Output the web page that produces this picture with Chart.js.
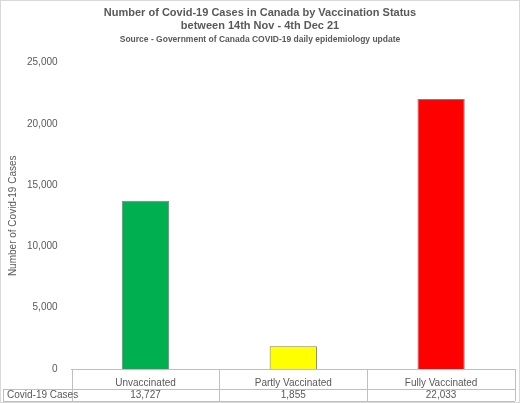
<!DOCTYPE html>
<html><head><meta charset="utf-8">
<script src="https://cdn.jsdelivr.net/npm/chart.js@4"></script>
<style>
body{margin:0;background:#fff;}
#wrap{width:518px;height:401px;border:1px solid #d9d9d9;}
</style></head>
<body><div id="wrap"><canvas id="c" width="518" height="401"></canvas></div>
<script>
const categories = ['Unvaccinated', 'Partly Vaccinated', 'Fully Vaccinated'];
const cases = [13727, 1855, 22033];
const barColors = ['#00B050', '#FFFF00', '#FF0000'];
const seriesName = 'Covid-19 Cases';

// draws the data table under the axis (grid + values + series label)
const dataTable = {
    id: 'dataTable',
    afterDraw(chart) {
        const ctx = chart.ctx;
        const x = chart.scales.x;
        const top = x.top, bottom = chart.height - 1;
        const mid = x.bottom;
        ctx.save();
        ctx.strokeStyle = '#bfbfbf';
        ctx.lineWidth = 1;
        ctx.beginPath();
        ctx.moveTo(2, mid + 0.5); ctx.lineTo(x.right, mid + 0.5);
        ctx.moveTo(2, bottom + 0.5); ctx.lineTo(x.right, bottom + 0.5);
        ctx.moveTo(2.5, mid); ctx.lineTo(2.5, bottom);
        const step = (x.right - x.left) / categories.length;
        for (let i = 0; i <= categories.length; i++) {
            const px = Math.round(x.left + step * i) + 0.5;
            ctx.moveTo(px, top); ctx.lineTo(px, bottom);
        }
        ctx.stroke();
        ctx.fillStyle = '#595959';
        ctx.font = '10px "Liberation Sans", Arial';
        ctx.textBaseline = 'middle';
        ctx.textAlign = 'left';
        ctx.fillText(seriesName, 6, (mid + bottom) / 2);
        ctx.textAlign = 'center';
        cases.forEach((v, i) => {
            ctx.fillText(v.toLocaleString('en-US'), x.getPixelForValue(i), (mid + bottom) / 2);
        });
        ctx.restore();
    }
};

new Chart(document.getElementById('c'), {
    type: 'bar',
    data: {
        labels: categories,
        datasets: [{
            label: seriesName,
            data: cases,
            backgroundColor: barColors,
            borderColor: '#7f7f7f',
            borderWidth: 1,
            categoryPercentage: 1,
            barPercentage: 0.32
        }]
    },
    options: {
        responsive: false,
        animation: false,
        layout: { padding: { left: 4, right: 4, top: 0, bottom: 13 } },
        scales: {
            x: {
                grid: { display: false },
                border: { color: '#bfbfbf' },
                ticks: { color: '#595959', font: { size: 10, family: '"Liberation Sans", Arial' }, padding: 0 }
            },
            y: {
                min: 0, max: 25000,
                ticks: {
                    stepSize: 5000, color: '#595959', padding: 6,
                    font: { size: 10, family: '"Liberation Sans", Arial' },
                    callback: v => v.toLocaleString('en-US')
                },
                grid: { display: false },
                border: { display: false },
                title: { display: true, text: 'Number of Covid-19 Cases', color: '#595959', padding: 2,
                    font: { size: 10, family: '"Liberation Sans", Arial' } }
            }
        },
        plugins: {
            legend: { display: false },
            tooltip: { enabled: false },
            title: {
                display: true,
                text: ['Number of Covid-19 Cases in Canada by Vaccination Status', 'between 14th Nov - 4th Dec 21'],
                color: '#595959',
                font: { size: 11, weight: 'bold', family: '"Liberation Sans", Arial' },
                padding: { top: 5, bottom: 0 }
            },
            subtitle: {
                display: true,
                text: 'Source - Government of Canada COVID-19 daily epidemiology update',
                color: '#595959',
                font: { size: 8.5, weight: 'bold', family: '"Liberation Sans", Arial' },
                padding: { top: 2, bottom: 18 }
            }
        }
    },
    plugins: [dataTable]
});
</script></body></html>
